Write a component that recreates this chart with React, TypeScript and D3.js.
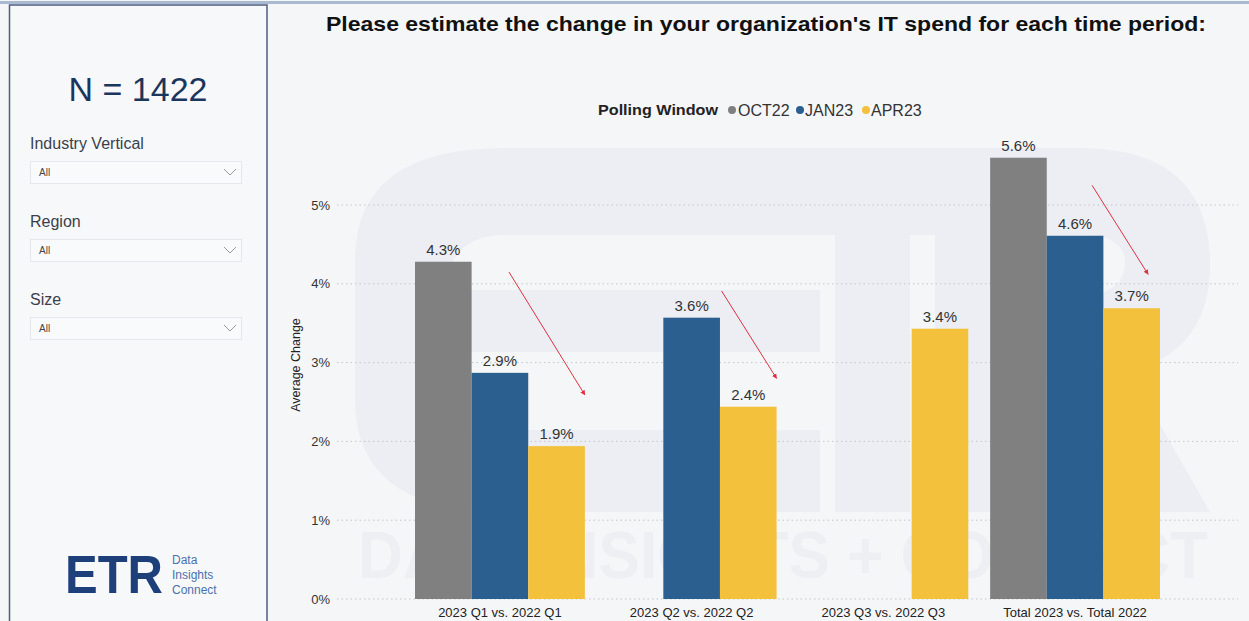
import React from "react";
import * as d3 from "d3";

const categories = [
  "2023 Q1 vs. 2022 Q1",
  "2023 Q2 vs. 2022 Q2",
  "2023 Q3 vs. 2022 Q3",
  "Total 2023 vs. Total 2022",
];
const seriesNames = ["OCT22", "JAN23", "APR23"];
const oct22 = [4.28, null, null, 5.6];
const jan23 = [2.87, 3.57, null, 4.61];
const apr23 = [1.94, 2.44, 3.43, 3.69];
const yTicks = [0, 1, 2, 3, 4, 5];
const filters = ["Industry Vertical", "Region", "Size"];
// annotation arrows: category index, start/end position within band (fraction), start/end value
const arrows = [
  { cat: 0, f0: 0.553, v0: 4.15, f1: 1.0, v1: 2.59 },
  { cat: 1, f0: 0.676, v0: 3.91, f1: 1.0, v1: 2.8 },
  { cat: 3, f0: 0.6, v0: 5.25, f1: 0.93, v1: 4.12 },
];

const colors = ["#808080", "#2b5f8f", "#f3c13c"];
const FONT = "'Liberation Sans', Arial, Helvetica, sans-serif";

export default function App() {
  const W = 1249;
  const H = 621;
  const x = d3.scaleBand<string>().domain(categories).range([415, 1160]).paddingInner(0.114).paddingOuter(0);
  const xs = d3.scaleBand<string>().domain(seriesNames).range([0, x.bandwidth()]).padding(0);
  const y = d3.scaleLinear().domain([0, 5]).range([599, 205]);
  const seriesVals = [oct22, jan23, apr23];
  const gridL = 337;
  const gridR = 1238;

  const bars: any[] = [];
  seriesVals.forEach((vals, si) => {
    vals.forEach((v, ci) => {
      if (v == null) return;
      const bx = (x(categories[ci]) as number) + (xs(seriesNames[si]) as number);
      bars.push({ key: `${si}-${ci}`, x: bx, w: xs.bandwidth(), y: y(v), h: y(0) - y(v), v, c: colors[si] });
    });
  });

  const legendY = 110;
  const legendItems = [
    { name: seriesNames[0], dot: 732, tx: 738 },
    { name: seriesNames[1], dot: 800, tx: 805 },
    { name: seriesNames[2], dot: 866, tx: 871 },
  ];

  return (
    <div style={{ position: "fixed", left: 0, top: 0, width: W, height: H, background: "#f5f6f8" }}>
      <svg width={W} height={H} style={{ display: "block", fontFamily: FONT }}>
        <defs>
          <marker id="ah" viewBox="0 0 10 10" refX="9" refY="5" markerWidth="5" markerHeight="5" orient="auto">
            <path d="M0,0 L10,5 L0,10 z" fill="#e03040" />
          </marker>
        </defs>
        <rect x={0} y={0} width={W} height={H} fill="#f5f6f8" />
        <rect x={0} y={1} width={W} height={3} fill="#a9bad0" />

        {/* watermark */}
        <g fill="#eceef3">
          <path d="M505,148 L960,148 L960,235 L505,235 Q445,235 445,300 L445,420 Q445,430 505,430 L820,430 L820,512 L505,512 Q355,512 355,400 L355,260 Q355,148 505,148 Z" />
          <rect x={445} y={290} width={375} height={62} />
          <rect x={835} y={235} width={75} height={277} />
          <path d="M935,148 L1080,148 Q1210,148 1210,265 Q1210,350 1130,372 L1210,512 L1120,512 L1050,380 L1010,380 L1010,512 L935,512 Z" />
        </g>
        <path d="M1010,235 L1080,235 Q1125,235 1125,262 Q1125,295 1080,295 L1010,295 Z" fill="#f5f6f8" />
        <text x={358} y={578} fontSize={66} fontWeight={700} fill="#edeff3" textLength={850} lengthAdjust="spacingAndGlyphs">
          DATA INSIGHTS + CONNECT
        </text>

        {/* left panel */}
        <rect x={9.5} y={5} width={257.5} height={H} fill="#f7f8fa" stroke="#4d5d80" strokeWidth={1.5} />
        <text x={138} y={101} fontSize={34} fill="#1b365d" textAnchor="middle">N = 1422</text>
        {filters.map((f, i) => {
          const base = 149 + i * 78;
          return (
            <g key={f}>
              <text x={30} y={base} fontSize={16} fill="#3a3f4a">{f}</text>
              <rect x={30.5} y={base + 12.5} width={211} height={22} fill="#f9fafb" stroke="#e4e7eb" />
              <text x={39} y={base + 27} fontSize={10} fill="#444">All</text>
              <polyline points={`${224},${base + 20} ${230},${base + 26} ${236},${base + 20}`} fill="none" stroke="#999" strokeWidth={1} />
            </g>
          );
        })}
        <text x={65} y={593} fontSize={54} fontWeight={700} fill="#1d3f7a" textLength={98} lengthAdjust="spacingAndGlyphs">ETR</text>
        <g fontSize={12} fill="#4a72ad">
          <text x={172} y={564}>Data</text>
          <text x={172} y={579}>Insights</text>
          <text x={172} y={594}>Connect</text>
        </g>

        {/* title */}
        <text x={766} y={31} fontSize={21} fontWeight={700} fill="#111" textAnchor="middle" textLength={880} lengthAdjust="spacingAndGlyphs">
          Please estimate the change in your organization's IT spend for each time period:
        </text>

        {/* legend */}
        <text x={598} y={legendY + 5} fontSize={15} fontWeight={700} fill="#222" textLength={120} lengthAdjust="spacingAndGlyphs">Polling Window</text>
        {legendItems.map((l, i) => (
          <g key={l.name}>
            <circle cx={l.dot} cy={legendY} r={4} fill={colors[i]} />
            <text x={l.tx} y={legendY + 5.5} fontSize={16} fill="#333">{l.name}</text>
          </g>
        ))}

        {/* gridlines + y ticks */}
        {yTicks.map((t) => (
          <g key={t}>
            <line x1={gridL} x2={gridR} y1={y(t)} y2={y(t)} stroke="#c4c6ca" strokeWidth={1} strokeDasharray="1.5,3" />
            <text x={330} y={y(t) + 4.5} fontSize={13} fill="#333" textAnchor="end">{t}%</text>
          </g>
        ))}
        <text transform={`translate(300,${365}) rotate(-90)`} fontSize={12.5} fill="#222" textAnchor="middle">Average Change</text>

        {/* bars */}
        {bars.map((b) => (
          <g key={b.key}>
            <rect x={b.x} y={b.y} width={b.w} height={b.h} fill={b.c} />
            <text x={b.x + b.w / 2} y={b.y - 7} fontSize={15} fill="#333" textAnchor="middle">
              {d3.format(".1f")(b.v)}%
            </text>
          </g>
        ))}

        {/* category labels */}
        {categories.map((c) => (
          <text key={c} x={(x(c) as number) + x.bandwidth() / 2} y={617} fontSize={13} fill="#222" textAnchor="middle">
            {c}
          </text>
        ))}

        {/* arrows */}
        {arrows.map((a, i) => {
          const bx = x(categories[a.cat]) as number;
          return (
            <line key={i} x1={bx + a.f0 * x.bandwidth()} y1={y(a.v0)} x2={bx + a.f1 * x.bandwidth()} y2={y(a.v1)}
              stroke="#e03040" strokeWidth={1} markerEnd="url(#ah)" />
          );
        })}
      </svg>
    </div>
  );
}
